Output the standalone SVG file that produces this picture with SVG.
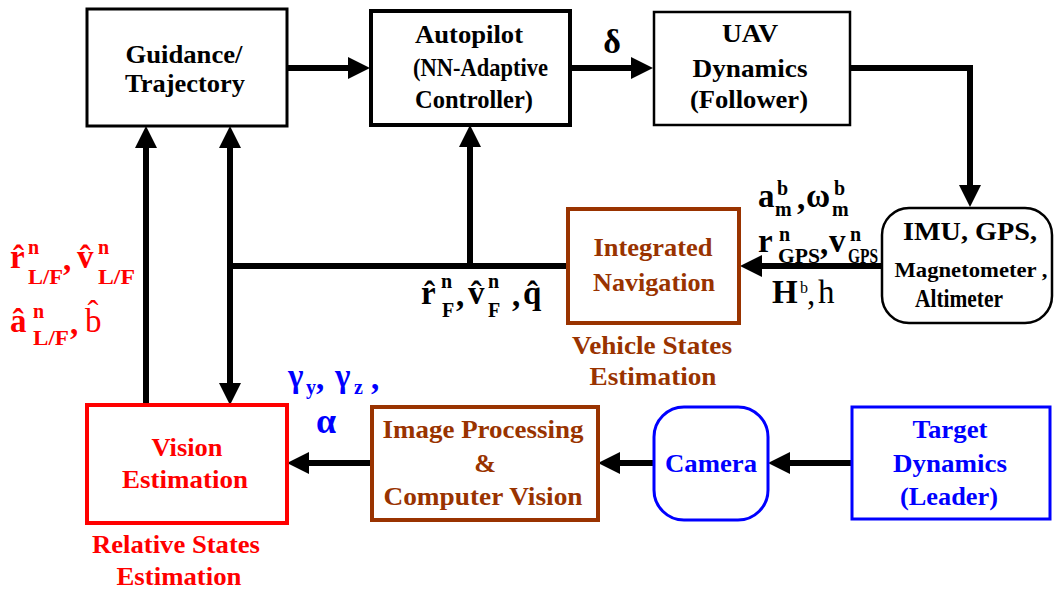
<svg xmlns="http://www.w3.org/2000/svg" width="1055" height="593" viewBox="0 0 1055 593">
<defs>
<marker id="ah" viewBox="0 0 22 22" refX="12" refY="11" markerWidth="22" markerHeight="22" markerUnits="userSpaceOnUse" orient="auto">
<path d="M0,0 L22,11 L0,22 z" fill="#000"/>
</marker>
</defs>
<rect width="1055" height="593" fill="#fff"/>

<g id="connectors" fill="none" stroke="#000" stroke-width="6">
<path d="M287,68 L360,68" marker-end="url(#ah)"/>
<path d="M570,68 L643,68" marker-end="url(#ah)"/>
<path d="M850,68 L970,68 L970,197" marker-end="url(#ah)"/>
<path d="M882,266 L750,266" marker-end="url(#ah)"/>
<path d="M568,266 L227,266"/>
<path d="M470,266 L470,135" marker-end="url(#ah)"/>
<path d="M230,266 L230,136" marker-end="url(#ah)"/>
<path d="M230,266 L230,395" marker-end="url(#ah)"/>
<path d="M146,405 L146,136" marker-end="url(#ah)"/>
<path d="M372,463 L297,463" marker-end="url(#ah)"/>
<path d="M654,463 L608,463" marker-end="url(#ah)"/>
<path d="M852,463 L778,463" marker-end="url(#ah)"/>
</g>

<g id="guidance">
<rect x="87" y="9" width="200" height="117" fill="#fff" stroke="#000" stroke-width="3"/>
<text font-family="Liberation Serif" font-weight="bold" font-size="26" text-anchor="middle" fill="#000" x="184" y="63" textLength="117" lengthAdjust="spacingAndGlyphs">Guidance/</text>
<text font-family="Liberation Serif" font-weight="bold" font-size="26" text-anchor="middle" fill="#000" x="185" y="92" textLength="120" lengthAdjust="spacingAndGlyphs">Trajectory</text>
</g>

<g id="autopilot">
<rect x="371" y="11" width="199" height="114" fill="#fff" stroke="#000" stroke-width="4"/>
<text font-family="Liberation Serif" font-weight="bold" font-size="26" fill="#000" x="415" y="43" textLength="108" lengthAdjust="spacingAndGlyphs">Autopilot</text>
<text font-family="Liberation Serif" font-weight="bold" font-size="26" fill="#000" x="413" y="76" textLength="135" lengthAdjust="spacingAndGlyphs">(NN-Adaptive</text>
<text font-family="Liberation Serif" font-weight="bold" font-size="26" fill="#000" x="415" y="108" textLength="118" lengthAdjust="spacingAndGlyphs">Controller)</text>
</g>

<g id="delta">
<text font-family="Liberation Serif" font-weight="bold" font-size="34" text-anchor="middle" fill="#000" x="612" y="53">δ</text>
</g>

<g id="uav">
<rect x="654" y="12" width="196" height="113" fill="#fff" stroke="#000" stroke-width="2.5"/>
<text font-family="Liberation Serif" font-weight="bold" font-size="26" text-anchor="middle" fill="#000" x="750" y="42" textLength="56" lengthAdjust="spacingAndGlyphs">UAV</text>
<text font-family="Liberation Serif" font-weight="bold" font-size="26" text-anchor="middle" fill="#000" x="750" y="77" textLength="115" lengthAdjust="spacingAndGlyphs">Dynamics</text>
<text font-family="Liberation Serif" font-weight="bold" font-size="26" text-anchor="middle" fill="#000" x="749" y="108" textLength="118" lengthAdjust="spacingAndGlyphs">(Follower)</text>
</g>

<g id="sensors">
<rect x="882" y="208" width="170" height="115" rx="27" ry="27" fill="#fff" stroke="#000" stroke-width="2.5"/>
<text font-family="Liberation Serif" font-weight="bold" font-size="26" text-anchor="middle" fill="#000" x="970" y="240" textLength="134" lengthAdjust="spacingAndGlyphs">IMU, GPS,</text>
<text font-family="Liberation Serif" font-weight="bold" font-size="22" text-anchor="middle" fill="#000" x="971" y="277" textLength="153" lengthAdjust="spacingAndGlyphs">Magnetometer ,</text>
<text font-family="Liberation Serif" font-weight="bold" font-size="26" text-anchor="middle" fill="#000" x="959" y="307" textLength="88" lengthAdjust="spacingAndGlyphs">Altimeter</text>
</g>

<g id="integrated-navigation">
<rect x="568" y="209" width="171" height="114" fill="#fff" stroke="#993300" stroke-width="4"/>
<text font-family="Liberation Serif" font-weight="bold" font-size="26" text-anchor="middle" fill="#993300" x="653" y="256" textLength="119" lengthAdjust="spacingAndGlyphs">Integrated</text>
<text font-family="Liberation Serif" font-weight="bold" font-size="26" text-anchor="middle" fill="#993300" x="654" y="291" textLength="122" lengthAdjust="spacingAndGlyphs">Navigation</text>
<text font-family="Liberation Serif" font-weight="bold" font-size="26" text-anchor="middle" fill="#993300" x="652" y="354" textLength="160" lengthAdjust="spacingAndGlyphs">Vehicle States</text>
<text font-family="Liberation Serif" font-weight="bold" font-size="26" text-anchor="middle" fill="#993300" x="653" y="385" textLength="127" lengthAdjust="spacingAndGlyphs">Estimation</text>
</g>

<g id="vision-estimation">
<rect x="87" y="405" width="200" height="118" fill="#fff" stroke="#ff0000" stroke-width="4"/>
<text font-family="Liberation Serif" font-weight="bold" font-size="26" text-anchor="middle" fill="#ff0000" x="187" y="456" textLength="71" lengthAdjust="spacingAndGlyphs">Vision</text>
<text font-family="Liberation Serif" font-weight="bold" font-size="26" text-anchor="middle" fill="#ff0000" x="185" y="488" textLength="126" lengthAdjust="spacingAndGlyphs">Estimation</text>
<text font-family="Liberation Serif" font-weight="bold" font-size="26" text-anchor="middle" fill="#ff0000" x="176" y="553" textLength="168" lengthAdjust="spacingAndGlyphs">Relative States</text>
<text font-family="Liberation Serif" font-weight="bold" font-size="26" text-anchor="middle" fill="#ff0000" x="179" y="585" textLength="125" lengthAdjust="spacingAndGlyphs">Estimation</text>
</g>

<g id="image-processing">
<rect x="372" y="407" width="226" height="113" fill="#fff" stroke="#993300" stroke-width="4"/>
<text font-family="Liberation Serif" font-weight="bold" font-size="26" text-anchor="middle" fill="#993300" x="483" y="438" textLength="201" lengthAdjust="spacingAndGlyphs">Image Processing</text>
<text font-family="Liberation Serif" font-weight="bold" font-size="26" text-anchor="middle" fill="#993300" x="485" y="472">&amp;</text>
<text font-family="Liberation Serif" font-weight="bold" font-size="26" text-anchor="middle" fill="#993300" x="483" y="505" textLength="199" lengthAdjust="spacingAndGlyphs">Computer Vision</text>
</g>

<g id="camera">
<rect x="654" y="407" width="114" height="113" rx="30" ry="30" fill="#fff" stroke="#0000ff" stroke-width="3"/>
<text font-family="Liberation Serif" font-weight="bold" font-size="26" text-anchor="middle" fill="#0000ff" x="711" y="472" textLength="92" lengthAdjust="spacingAndGlyphs">Camera</text>
</g>

<g id="target-dynamics">
<rect x="852" y="407" width="198" height="112" fill="#fff" stroke="#0000ff" stroke-width="3"/>
<text font-family="Liberation Serif" font-weight="bold" font-size="26" text-anchor="middle" fill="#0000ff" x="950" y="438" textLength="75" lengthAdjust="spacingAndGlyphs">Target</text>
<text font-family="Liberation Serif" font-weight="bold" font-size="26" text-anchor="middle" fill="#0000ff" x="950" y="472" textLength="114" lengthAdjust="spacingAndGlyphs">Dynamics</text>
<text font-family="Liberation Serif" font-weight="bold" font-size="26" text-anchor="middle" fill="#0000ff" x="949" y="505" textLength="98" lengthAdjust="spacingAndGlyphs">(Leader)</text>
</g>

<g id="label-relative-states" fill="#ff0000">
<text font-family="Liberation Serif" font-weight="bold" font-size="33" x="10" y="268">r̂</text>
<text font-family="Liberation Serif" font-weight="bold" font-size="20" x="28" y="254">n</text>
<text font-family="Liberation Serif" font-weight="bold" font-size="20" x="28" y="284" textLength="35" lengthAdjust="spacingAndGlyphs">L/F</text>
<text font-family="Liberation Serif" font-weight="bold" font-size="33" x="63" y="270">,</text>
<text font-family="Liberation Serif" font-weight="bold" font-size="33" x="77" y="268">v̂</text>
<text font-family="Liberation Serif" font-weight="bold" font-size="20" x="98" y="254">n</text>
<text font-family="Liberation Serif" font-weight="bold" font-size="20" x="98" y="284" textLength="37" lengthAdjust="spacingAndGlyphs">L/F</text>
<text font-family="Liberation Serif" font-weight="bold" font-size="33" x="10" y="332">â</text>
<text font-family="Liberation Serif" font-weight="bold" font-size="20" x="33" y="318">n</text>
<text font-family="Liberation Serif" font-weight="bold" font-size="20" x="33" y="345" textLength="36" lengthAdjust="spacingAndGlyphs">L/F</text>
<text font-family="Liberation Serif" font-weight="bold" font-size="33" x="70" y="334">,</text>
<text font-family="Liberation Serif" font-weight="normal" font-size="33" x="85" y="332">b̂</text>
</g>

<g id="label-vehicle-states" fill="#000">
<text font-family="Liberation Serif" font-weight="bold" font-size="33" x="421" y="304">r̂</text>
<text font-family="Liberation Serif" font-weight="bold" font-size="20" x="441" y="288">n</text>
<text font-family="Liberation Serif" font-weight="bold" font-size="20" x="442" y="317">F</text>
<text font-family="Liberation Serif" font-weight="bold" font-size="33" x="456" y="306">,</text>
<text font-family="Liberation Serif" font-weight="bold" font-size="33" x="468" y="304">v̂</text>
<text font-family="Liberation Serif" font-weight="bold" font-size="20" x="488" y="288">n</text>
<text font-family="Liberation Serif" font-weight="bold" font-size="20" x="488" y="317">F</text>
<text font-family="Liberation Serif" font-weight="bold" font-size="33" x="512" y="306">,</text>
<text font-family="Liberation Serif" font-weight="bold" font-size="33" x="523" y="304">q̂</text>
</g>

<g id="label-sensor-outputs" fill="#000">
<text font-family="Liberation Serif" font-weight="bold" font-size="33" x="758" y="207">a</text>
<text font-family="Liberation Serif" font-weight="bold" font-size="20" x="777" y="195">b</text>
<text font-family="Liberation Serif" font-weight="bold" font-size="20" x="775" y="216">m</text>
<text font-family="Liberation Serif" font-weight="bold" font-size="33" x="797" y="209">,</text>
<text font-family="Liberation Serif" font-weight="bold" font-size="33" x="806" y="207">ω</text>
<text font-family="Liberation Serif" font-weight="bold" font-size="20" x="834" y="195">b</text>
<text font-family="Liberation Serif" font-weight="bold" font-size="20" x="832" y="216">m</text>
<text font-family="Liberation Serif" font-weight="bold" font-size="33" x="758" y="252">r</text>
<text font-family="Liberation Serif" font-weight="bold" font-size="20" x="779" y="241">n</text>
<text font-family="Liberation Serif" font-weight="bold" font-size="20" x="778" y="263" textLength="42" lengthAdjust="spacingAndGlyphs">GPS</text>
<text font-family="Liberation Serif" font-weight="bold" font-size="33" x="820" y="254">,</text>
<text font-family="Liberation Serif" font-weight="bold" font-size="33" x="829" y="252">v</text>
<text font-family="Liberation Serif" font-weight="bold" font-size="20" x="850" y="241">n</text>
<text font-family="Liberation Serif" font-weight="bold" font-size="20" x="848" y="263" textLength="30" lengthAdjust="spacingAndGlyphs">GPS</text>
<text font-family="Liberation Serif" font-weight="bold" font-size="33" x="772" y="303">H</text>
<text font-family="Liberation Serif" font-weight="normal" font-size="16" x="800" y="293">b</text>
<text font-family="Liberation Serif" font-weight="normal" font-size="33" x="807" y="305">,</text>
<text font-family="Liberation Serif" font-weight="normal" font-size="33" x="818" y="303">h</text>
</g>

<g id="label-vision-measurements" fill="#0000ff">
<text font-family="Liberation Serif" font-weight="bold" font-size="33" x="288" y="387">γ</text>
<text font-family="Liberation Serif" font-weight="bold" font-size="20" x="306" y="394">y</text>
<text font-family="Liberation Serif" font-weight="bold" font-size="33" x="316" y="389">,</text>
<text font-family="Liberation Serif" font-weight="bold" font-size="33" x="335" y="387">γ</text>
<text font-family="Liberation Serif" font-weight="bold" font-size="20" x="354" y="394">z</text>
<text font-family="Liberation Serif" font-weight="bold" font-size="33" x="371" y="389">,</text>
<text font-family="Liberation Serif" font-weight="bold" font-size="36" text-anchor="middle" x="326" y="433">α</text>
</g>
</svg>
